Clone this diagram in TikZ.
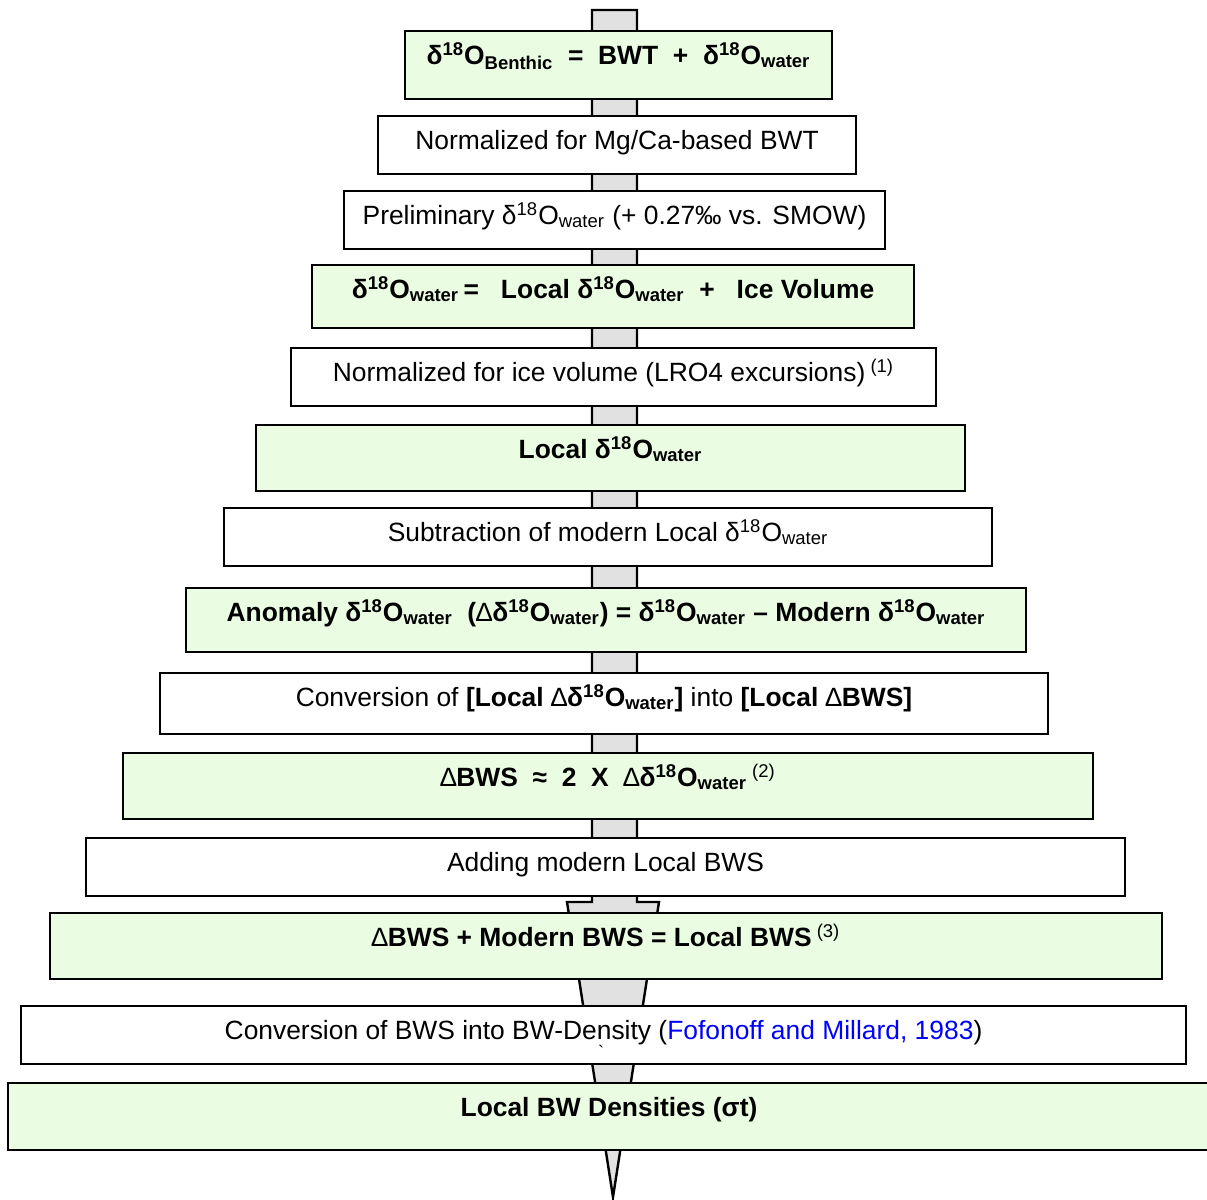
\documentclass[tikz,border=0pt]{standalone}
\usepackage{fontspec}
\setmainfont{Liberation Sans}
\definecolor{boxgreen}{RGB}{234,253,227}
\definecolor{shaftgray}{RGB}{225,225,225}
\definecolor{refblue}{RGB}{0,0,255}
\newcommand{\dO}[1]{δ\textsuperscript{18}O\textsubscript{#1}}
\newcommand{\fnote}[1]{\textsuperscript{\mdseries\ (#1)}}
\tikzset{stage/.style={draw, line width=1.2pt, inner sep=0pt, text height=16.5pt,
    font=\fontsize{13.2}{15}\selectfont}}
\tikzset{result/.style={stage, fill=boxgreen, font=\fontsize{13.2}{15}\selectfont\bfseries}}
\tikzset{note/.style={stage, fill=white}}
\tikzset{shaft/.style={draw, line width=1.2pt, fill=shaftgray}}

\begin{document}
\begin{tikzpicture}[x=0.5pt, y=-0.5pt]
      \useasboundingbox (0,0) rectangle (1207,1200);

      % central arrow behind the boxes
      \coordinate (top) at (614.5,10);
      \coordinate (tip) at (613,1197);
      \draw[shaft] (592,10) -- (592,902) -- (567,902) -- (tip) -- (659,902)
        -- (637,902) -- (637,10) -- cycle;

      \node[result, minimum width=213.5pt, text depth=17.5pt] (benthic) at (618.5,65)
        {\dO{Benthic}~~=~~BWT~~+~~\dO{water}};
      \node[note, minimum width=239pt, text depth=12.5pt] (normbwt) at (617,145)
        {Normalized for Mg/Ca-based BWT};
      \node[note, minimum width=270.5pt, text depth=12.5pt] (prelim) at (614.5,220)
        {Preliminary \dO{water} (+ 0.27‰ vs. SMOW)};
      \node[result, minimum width=301pt, text depth=15pt] (water) at (613,296.5)
        {\dO{water}\,=~~~Local \dO{water}~~+~~~Ice Volume};
      \node[note, minimum width=322.5pt, text depth=12.5pt] (normice) at (613.5,377)
        {Normalized for ice volume (LRO4 excursions)\fnote{1}};
      \node[result, minimum width=354.5pt, text depth=16.5pt] (local) at (610.5,458)
        {Local \dO{water}};
      \node[note, minimum width=384pt, text depth=12.5pt] (subtract) at (608,537)
        {Subtraction of modern Local \dO{water}};
      \node[result, minimum width=420pt, text depth=15.5pt] (anomaly) at (606,620)
        {Anomaly \dO{water}~~({\mdseries∆}\dO{water}) = \dO{water} – Modern \dO{water}};
      \node[note, minimum width=444pt, text depth=14pt] (convert) at (604,703.5)
        {Conversion of \textbf{[Local {\mdseries∆}\dO{water}]} into \textbf{[Local {\mdseries∆}BWS]}};
      \node[result, minimum width=485pt, text depth=16.5pt] (ratio) at (608,786)
        {{\mdseries∆}BWS~~≈~~2~~X~~{\mdseries∆}\dO{water}\fnote{2}};
      \node[note, minimum width=519.5pt, text depth=12.5pt] (addmod) at (605.5,867)
        {Adding modern Local BWS};
      \node[result, minimum width=556pt, text depth=16.5pt] (bws) at (606,946)
        {{\mdseries∆}BWS + Modern BWS = Local BWS\fnote{3}};
      \node[note, minimum width=582.5pt, text depth=12.5pt] (density) at (603.5,1035)
        {Conversion of BWS into BW-Density (\textcolor{refblue}{Fofonoff and Millard, 1983})};
      \node[font=\fontsize{9}{9}\selectfont, inner sep=0pt] (tick) at (601,1052) {\textasciigrave};
      \node[result, minimum width=601pt, text depth=17pt] (sigma) at (609,1116.5)
        {Local BW Densities (σt)};

    \end{tikzpicture}
\end{document}
